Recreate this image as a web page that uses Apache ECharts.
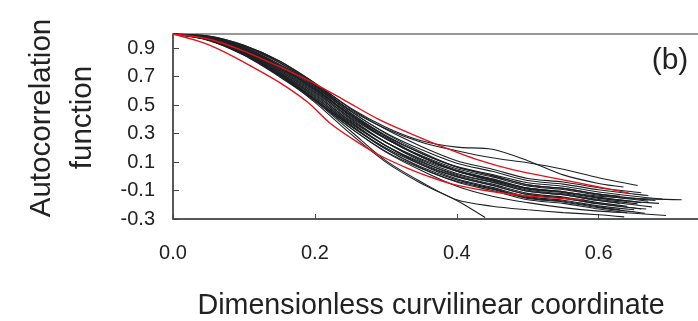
<!DOCTYPE html>
<html><head><meta charset="utf-8">
<script src="https://cdn.jsdelivr.net/npm/echarts@6/dist/echarts.min.js"></script>
<style>html,body{margin:0;padding:0;background:#fff}#c{width:698px;height:321px}</style>
</head><body><div id="c"></div>
<script>
// ---- data ----
const xGrid = [0,0.05,0.1,0.15,0.2,0.25,0.3,0.35,0.4,0.45,0.5,0.55,0.6,0.65];
const xTicks = [0,0.2,0.4,0.6];
const yTicks = [-0.3,-0.1,0.1,0.3,0.5,0.7,0.9];
const xTitle = 'Dimensionless curvilinear coordinate';
const yTitle = ['Autocorrelation','function'];
const panelLabel = '(b)';

// black curves: y sampled on xGrid, plus last point
const curveBump = {y:[1,.985,.92,.81,.655,.48,.345,.25,.205,.19,.11,.01,-.05], end:[0.635,-0.075]};
const curveCross = {y:[1,.98,.915,.80,.64,.465,.335,.24,.18,.13,.095,.05,-.01], end:[0.655,-0.065]};
const curveA = {y:[1,.985,.92,.81,.655,.475,.33,.21,.11,.05,-.015,-.04,-.08,-.11], end:[0.66,-0.115]};
const curveB = {y:[1,.982,.913,.799,.65,.46,.30,.17,.065,.005,-.06,-.085,-.125], end:[0.63,-0.14]};
const curveC = {y:[1,.98,.906,.788,.642,.458,.305,.188,.092,.035,-.03,-.055,-.095,-.125], end:[0.67,-0.135]};
const curveD = {y:[1,.977,.899,.777,.628,.445,.287,.162,.065,.005,-.06,-.085,-.125,-.155], end:[0.68,-0.17]};
const curveE = {y:[1,.975,.896,.772,.621,.433,.269,.14,.04,-.025,-.09,-.115,-.155], end:[0.64,-0.175]};
const curveF = {y:[1,.973,.892,.766,.614,.435,.281,.16,.068,.013,-.045,-.07,-.11,-.14], end:[0.69,-0.16]};
const curveG = {y:[1,.972,.889,.761,.607,.423,.263,.138,.043,-.017,-.083,-.108,-.148,-.178], end:[0.66,-0.185]};
const curveH = {y:[1,.97,.885,.755,.60,.408,.239,.106,.005,-.055,-.12,-.145,-.185], end:[0.64,-0.21]};
const curveI = {y:[1,.969,.882,.75,.593,.415,.263,.146,.053,-.004,-.068,-.093,-.133,-.163], end:[0.67,-0.175]};
const curveJ = {y:[1,.967,.878,.744,.586,.40,.239,.114,.02,-.04,-.105,-.13,-.17], end:[0.63,-0.19]};
const curveK = {y:[1,.966,.875,.739,.579,.385,.215,.082,-.017,-.078,-.143,-.168,-.208], end:[0.65,-0.235]};
const curveL = {y:[1,.964,.871,.733,.572,.392,.239,.122,.035,-.02,-.083,-.108,-.148,-.178], end:[0.685,-0.19]};
const curveM = {y:[1,.963,.868,.728,.565,.378,.215,.09,-.002,-.063,-.128,-.153,-.193,-.223], end:[0.66,-0.23]};
const curveN = {y:[1,.961,.864,.722,.558,.362,.191,.058,-.04,-.10,-.165,-.19,-.23], end:[0.64,-0.255]};
const curveO = {y:[1,.96,.861,.717,.551,.37,.215,.098,.013,-.043,-.105,-.13,-.17,-.20], end:[0.675,-0.215]};
const curveP = {y:[1,.958,.857,.711,.544,.355,.191,.066,-.025,-.085,-.15,-.175,-.215], end:[0.63,-0.235]};
const curveQ = {y:[1,.957,.854,.706,.537,.355,.199,.082,-.004,-.064,-.128,-.153,-.193,-.223], end:[0.667,-0.23]};
const curveR = {y:[1,.955,.85,.70,.53,.34,.175,.055,-.035,-.09,-.155,-.18,-.22,-.25], end:[0.665,-0.26]};
const curveLong = {y:[1,.973,.892,.766,.614,.43,.265,.135,.038,-.03,-.085,-.11,-.14,-.155], end:[0.717,-0.165]};
const curveT = {y:[1,.978,.903,.783,.635,.445,.279,.138,.035,-.033,-.098,-.123,-.163,-.19], end:[0.655,-0.195]};
const curveSteep1 = {y:[1,.958,.855,.71,.52,.30,.10,-.05,-.17], end:[0.44,-0.29]};
const curveSteep2 = {y:[1,.96,.858,.715,.53,.32,.11,-.04,-.165,-.21,-.235,-.255,-.27], end:[0.636,-0.285]};
const curveSteep3 = {y:[1,.962,.86,.72,.54,.34,.17,.04,-.07,-.14,-.185,-.22,-.245,-.26], end:[0.695,-0.275]};

// red curves: [x, y]
const redUpper = [[0,1],[0.05,0.965],[0.1,0.88],[0.15,0.77],[0.2,0.65],[0.245,0.525],[0.29,0.40],[0.33,0.31],[0.376,0.215],[0.43,0.115],[0.48,0.045],[0.55,-0.025],[0.6,-0.075],[0.643,-0.118]];
const redLower = [[0,1],[0.042,0.94],[0.07,0.88],[0.108,0.78],[0.15,0.66],[0.19,0.52],[0.221,0.375],[0.26,0.24],[0.291,0.148],[0.33,0.058],[0.36,0.0],[0.394,-0.055],[0.44,-0.1],[0.484,-0.13],[0.53,-0.15],[0.58,-0.165]];

const blackCurves = [curveBump,curveCross,curveA,curveB,curveC,curveD,curveE,curveF,curveG,curveH,curveI,curveJ,curveK,curveL,curveM,curveN,curveO,curveP,curveQ,curveR,curveLong,curveT,curveSteep1,curveSteep2,curveSteep3];
const redCurves = [redUpper, redLower];

// ---- chart ----
const FONT = '"Liberation Sans", Arial, sans-serif';
const series = [];
blackCurves.forEach(c => {
  series.push({
    type:'line', data: c.y.map((v,i)=>[xGrid[i], v]).concat([c.end]),
    showSymbol:false, smooth:0.3, silent:true, z:2,
    lineStyle:{color:'#1c2024', width:1.1}
  });
});
redCurves.forEach(c => {
  series.push({
    type:'line', data:c, showSymbol:false, smooth:0.3, silent:true, z:3,
    lineStyle:{color:'#e3121a', width:1.4}
  });
});

const chart = echarts.init(document.getElementById('c'), null, {renderer:'canvas'});
chart.setOption({
  animation:false,
  backgroundColor:'#fff',
  grid:{left:173, top:34, width:526, height:185, containLabel:false},
  xAxis:[{
    type:'value', min:0, max:0.74, position:'bottom',
    axisLine:{show:true, onZero:false, lineStyle:{color:'#222', width:1.5}},
    axisTick:{show:true, inside:true, length:5, customValues:xTicks, lineStyle:{color:'#444'}},
    axisLabel:{customValues:xTicks, formatter:v=>v.toFixed(1), fontSize:20, color:'#222', fontFamily:FONT, margin:24},
    splitLine:{show:false}
  },{
    type:'value', min:0, max:0.74, position:'top',
    axisLine:{show:true, onZero:false, lineStyle:{color:'#777', width:1.5}},
    axisTick:{show:false}, axisLabel:{show:false}, splitLine:{show:false}
  }],
  yAxis:{
    type:'value', min:-0.3, max:1.0,
    axisLine:{show:true, onZero:false, lineStyle:{color:'#222', width:1.5}},
    axisTick:{show:true, inside:true, length:6, customValues:yTicks, lineStyle:{color:'#444'}},
    axisLabel:{customValues:yTicks, formatter:v=>v.toFixed(1), fontSize:20, color:'#222', fontFamily:FONT, margin:18},
    splitLine:{show:false}
  },
  graphic:[
    {type:'text', x:431, y:306, silent:true, style:{text:xTitle, fontSize:28.7, fontFamily:FONT, fill:'#222', align:'center', verticalAlign:'middle'}},
    {type:'text', x:41.5, y:118, rotation:Math.PI/2, silent:true, style:{text:yTitle[0], fontSize:29.5, fontFamily:FONT, fill:'#222', align:'center', verticalAlign:'middle'}},
    {type:'text', x:82.5, y:117.5, rotation:Math.PI/2, silent:true, style:{text:yTitle[1], fontSize:29.5, fontFamily:FONT, fill:'#222', align:'center', verticalAlign:'middle'}},
    {type:'text', x:670, y:61, silent:true, style:{text:panelLabel, fontSize:30, fontFamily:FONT, fill:'#222', align:'center', verticalAlign:'middle'}}
  ],
  series: series
});
</script>
</body></html>
